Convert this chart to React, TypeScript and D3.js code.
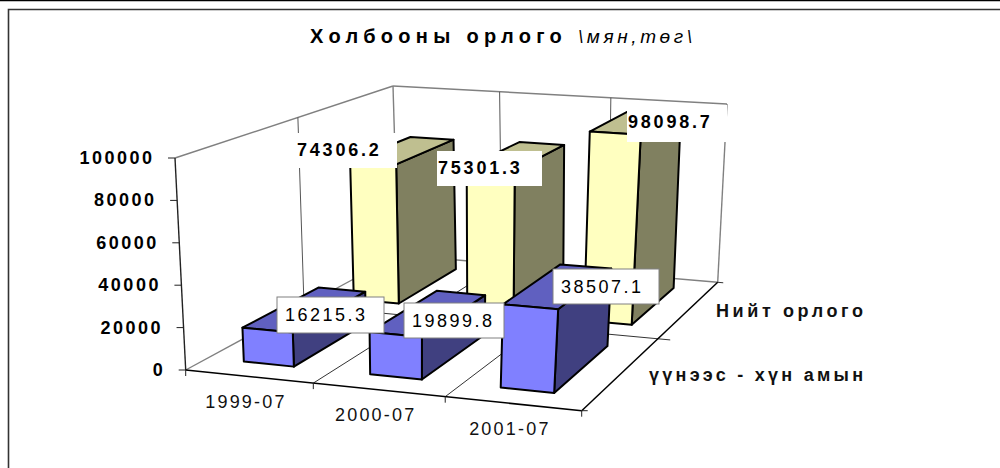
import React from "react";
import * as d3 from "d3";

const categories = ["1999-07", "2000-07", "2001-07"];
const seriesNames = ["үүнээс - хүн амын", "Нийт орлого"];
const populationValues = [16215.3, 19899.8, 38507.1];
const totalValues = [74306.2, 75301.3, 98098.7];
const valueTicks = [0, 20000, 40000, 60000, 80000, 100000];

type Pt = [number, number];
// perspective box corners: floor and ceiling, order: front-left, front-right, back-right, back-left
const FLOOR: Pt[] = [[185.7, 370], [581.7, 410.7], [717.7, 282.3], [398, 255]];
const CEIL: Pt[] = [[175, 158], [596, 188], [727, 104], [393, 86]];

function quad(q: Pt[]) {
  const [[x0, y0], [x1, y1], [x2, y2], [x3, y3]] = q;
  const dx1 = x1 - x2, dx2 = x3 - x2, sx = x0 - x1 + x2 - x3;
  const dy1 = y1 - y2, dy2 = y3 - y2, sy = y0 - y1 + y2 - y3;
  const den = dx1 * dy2 - dx2 * dy1;
  const g = (sx * dy2 - dx2 * sy) / den;
  const h = (dx1 * sy - sx * dy1) / den;
  const a = x1 - x0 + g * x1, b = x3 - x0 + h * x3;
  const d = y1 - y0 + g * y1, e = y3 - y0 + h * y3;
  return (s: number, t: number): Pt => {
    const w = g * s + h * t + 1;
    return [(a * s + b * t + x0) / w, (d * s + e * t + y0) / w];
  };
}
const floorMap = quad(FLOOR);
const ceilMap = quad(CEIL);
const xScale = d3.scaleLinear().domain([0, 3]).range([0, 1]);
const depthScale = d3.scaleLinear().domain([0, 2]).range([0, 1]);
const valueScale = d3.scaleLinear().domain([0, 100000]).range([0, 1]);

function P(u: number, d: number, v: number): Pt {
  const a = floorMap(xScale(u), depthScale(d));
  const b = ceilMap(xScale(u), depthScale(d));
  const k = valueScale(v);
  return [a[0] + (b[0] - a[0]) * k, a[1] + (b[1] - a[1]) * k];
}
const line = d3.line<Pt>();
const closed = (pts: Pt[]) => line(pts) + "Z";

const BAR_START = 0.29;
const BAR_END = 0.69;
const DEPTH_INSET = 0.17;
const FONT = "'Liberation Sans', Arial, sans-serif";

function Bar({ cat, depth, value, front, top, side }: any) {
  const u0 = cat + BAR_START, u1 = cat + BAR_END;
  const d0 = depth + DEPTH_INSET, d1 = depth + 1 - DEPTH_INSET;
  return (
    <g stroke="#000" strokeWidth={2} strokeLinejoin="round">
      <path d={closed([P(u1, d0, 0), P(u1, d1, 0), P(u1, d1, value), P(u1, d0, value)])} fill={side} />
      <path d={closed([P(u0, d0, value), P(u1, d0, value), P(u1, d1, value), P(u0, d1, value)])} fill={top} />
      <path d={closed([P(u0, d0, 0), P(u1, d0, 0), P(u1, d0, value), P(u0, d0, value)])} fill={front} />
    </g>
  );
}

const seg = (a: Pt, b: Pt, stroke: string, w = 1, key?: any) => (
  <line key={key} x1={a[0]} y1={a[1]} x2={b[0]} y2={b[1]} stroke={stroke} strokeWidth={w} />
);

const totalLabelBoxes = [
  { x: 296, y: 133, w: 101, h: 35 },
  { x: 437, y: 151, w: 105, h: 35 },
  { x: 627, y: 105, w: 100, h: 37 },
];
const popLabelBoxes = [
  { x: 277, y: 297, w: 107, h: 36 },
  { x: 404, y: 303, w: 100, h: 35 },
  { x: 553, y: 269, w: 106, h: 35 },
];

export default function App() {
  return (
    <svg width={1000} height={468} style={{ position: "absolute", left: 0, top: 0, background: "#fff" }} fontFamily={FONT}>
      {/* page frame */}
      <line x1={0} y1={0.5} x2={1000} y2={0.5} stroke="#000" strokeWidth={1.5} />
      <path d="M8.5,468V9.5H1000" fill="none" stroke="#333" strokeWidth={1.6} />

      {/* title */}
      <text x={310} y={43} fill="#000">
        <tspan fontWeight="bold" fontSize={20} letterSpacing={5.3}>Холбооны орлого </tspan>
        <tspan fontStyle="italic" fontSize={19} letterSpacing={3.6}>\мян,төг\</tspan>
      </text>

      {/* walls */}
      {seg(P(0, 0, 1e5), P(0, 2, 1e5), "#808080", 1.4)}
      {seg(P(0, 2, 1e5), P(3, 2, 1e5), "#808080", 1.4)}
      {seg(P(0, 2, 1e5), P(0, 2, 0), "#808080", 1.4)}
      {seg(P(3, 2, 1e5), P(3, 2, 0), "#808080", 1.4)}
      {seg(P(0, 0, 0), P(0, 2, 0), "#808080", 1.4)}
      {seg(P(0, 2, 0), P(3, 2, 0), "#808080", 1.4)}
      {seg(P(0, 1, 1e5), P(0, 1, 0), "#555", 1)}
      {[1, 2].map((u) => seg(P(u, 2, 1e5), P(u, 2, 0), "#555", 1, "bw" + u))}
      {/* floor grid */}
      {[1, 2].map((u) => seg(P(u, 0, 0), P(u, 2, 0), "#333", 1, "fg" + u))}
      {seg(P(0, 1, 0), P(3.1, 1, 0), "#333", 1)}
      {seg(P(3, 2, 0), P(3.05, 2, 0), "#333", 1)}

      {/* axes */}
      {seg(P(0, 0, 1e5), P(0, 0, 0), "#222", 1.4)}
      {seg(P(0, 0, 0), P(3, 0, 0), "#000", 1.5)}
      {seg(P(3, 0, 0), P(3, 2, 0), "#000", 1.5)}
      {valueTicks.map((v) => {
        const p = P(0, 0, v);
        return (
          <g key={v}>
            {seg([p[0] - 7, p[1]], p, "#222", 1)}
            <text x={p[0] - 20.5} y={p[1] + 6} textAnchor="end" fontSize={18} fontWeight="bold" letterSpacing={2.5} fill="#000">{v}</text>
          </g>
        );
      })}
      {[0, 1, 2, 3].map((u) => {
        const p = P(u, 0, 0);
        return seg(p, [p[0], p[1] + 6], "#222", 1, "t" + u);
      })}
      {seg(P(3, 0, 0), [P(3, 0, 0)[0] + 6, P(3, 0, 0)[1]], "#222", 1)}

      {categories.map((c, i) => {
        const p = P(i + 0.5, 0, 0);
        return (
          <text key={c} x={p[0] - 3} y={p[1] + 31} textAnchor="middle" fontSize={18} letterSpacing={2.2} fill="#111">{c}</text>
        );
      })}
      <text x={716} y={317} fontSize={18} fontWeight="bold" letterSpacing={3.6} fill="#111">{seriesNames[1]}</text>
      <text x={649} y={381} fontSize={18} fontWeight="bold" letterSpacing={3.25} fill="#111">{seriesNames[0]}</text>

      {/* bars */}
      {totalValues.map((v, i) => (
        <Bar key={i} cat={i} depth={1} value={v} front="#FFFFC0" top="#BFBF90" side="#808060" />
      ))}
      {populationValues.map((v, i) => (
        <Bar key={i} cat={i} depth={0} value={v} front="#8080FF" top="#6060C0" side="#404080" />
      ))}

      {/* data labels */}
      {totalValues.map((v, i) => {
        const b = totalLabelBoxes[i];
        return (
          <g key={i}>
            <rect x={b.x} y={b.y} width={b.w} height={b.h} fill="#fff" />
            <text x={b.x + 1} y={b.y + 23} fontSize={18} fontWeight="bold" letterSpacing={2.8} fill="#000">{v.toFixed(1)}</text>
          </g>
        );
      })}
      {populationValues.map((v, i) => {
        const b = popLabelBoxes[i];
        return (
          <g key={i}>
            <rect x={b.x} y={b.y} width={b.w} height={b.h} fill="#fff" stroke="#808080" strokeWidth={1} />
            <text x={b.x + 8} y={b.y + 24} fontSize={18} letterSpacing={2.5} fill="#000">{v.toFixed(1)}</text>
          </g>
        );
      })}
    </svg>
  );
}
